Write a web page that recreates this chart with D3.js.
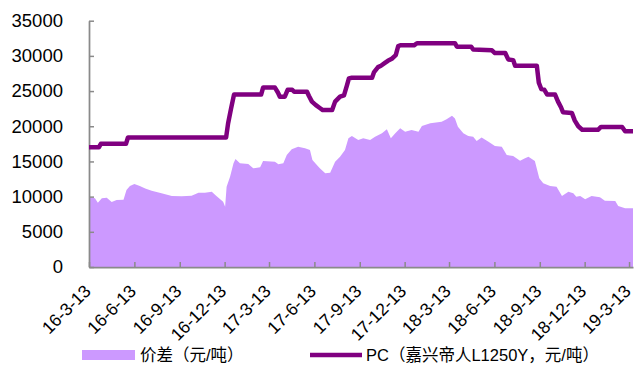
<!DOCTYPE html>
<html>
<head>
<meta charset="utf-8">
<script src="https://cdn.jsdelivr.net/npm/d3@7"></script>
<style>
  html, body { margin: 0; padding: 0; background: #fff; }
  svg { display: block; }
  text { font-family: "Liberation Sans", Arial, "Noto Sans CJK SC", sans-serif; }
</style>
</head>
<body>
<svg id="chart" width="634" height="374"></svg>
<script>
// Price spread (yuan/tonne)
const spreadDates = [
  "2016-03-13","2016-03-25","2016-03-31","2016-04-08","2016-04-18","2016-04-28","2016-05-08","2016-05-22",
  "2016-05-28","2016-06-04","2016-06-13","2016-06-24","2016-07-05","2016-07-18","2016-08-07","2016-08-28",
  "2016-09-17","2016-10-07","2016-10-21","2016-11-03","2016-11-17","2016-11-24","2016-12-04","2016-12-10",
  "2016-12-14","2016-12-17","2016-12-24","2016-12-31","2017-01-04","2017-01-13","2017-01-30","2017-02-09",
  "2017-02-23","2017-03-01","2017-03-25","2017-04-01","2017-04-11","2017-04-18","2017-04-28","2017-05-11",
  "2017-05-25","2017-06-04","2017-06-09","2017-06-18","2017-06-24","2017-07-05","2017-07-15","2017-07-25",
  "2017-08-04","2017-08-14","2017-08-21","2017-08-28","2017-09-10","2017-09-20","2017-10-04","2017-10-14",
  "2017-10-28","2017-11-07","2017-11-15","2017-11-24","2017-12-04","2017-12-14","2017-12-27","2018-01-10",
  "2018-01-17","2018-02-03","2018-02-26","2018-03-08","2018-03-19","2018-03-25","2018-03-31","2018-04-11",
  "2018-04-21","2018-05-01","2018-05-08","2018-05-18","2018-06-01","2018-06-14","2018-06-28","2018-07-08",
  "2018-07-21","2018-08-04","2018-08-14","2018-08-21","2018-09-03","2018-09-12","2018-09-20","2018-10-04",
  "2018-10-17","2018-10-28","2018-11-10","2018-11-20","2018-11-26","2018-12-04","2018-12-14","2018-12-27",
  "2019-01-13","2019-01-23","2019-02-13","2019-02-19","2019-03-05","2019-03-21"
];
const spreadValues = [
  9900, 9760, 9130, 9760, 9840, 9230, 9520, 9560,
  10940, 11500, 11790, 11500, 11170, 10840, 10470, 10090,
  10040, 10130, 10560, 10560, 10700, 10230, 9620, 9280,
  8570, 11400, 12830, 14730, 15340, 14730, 14630, 14020,
  14160, 15060, 14960, 14590, 14730, 15910, 16720, 17090,
  16860, 16620, 15200, 14490, 14020, 13310, 13400, 14960,
  15670, 16620, 18280, 18610, 18040, 18280, 18040, 18510,
  18990, 19560, 18280, 18990, 19700, 19220, 19460, 19220,
  20030, 20410, 20640, 20980, 21500, 21120, 19930, 18990,
  18610, 18510, 17900, 18420, 17800, 17190, 17090, 15910,
  15770, 15100, 15440, 15670, 15060, 12600, 11890, 11500,
  11400, 10090, 10700, 10470, 9990, 10090, 9620, 10090,
  9900, 9420, 9380, 8670, 8340, 8340
];

// PC price, Jiaxing Teijin L1250Y (yuan/tonne)
const pcDates = [
  "2016-03-13","2016-04-02","2016-04-06","2016-05-27","2016-05-31","2016-12-16","2016-12-20","2016-12-26",
  "2017-01-01","2017-02-25","2017-03-01","2017-03-25","2017-03-31","2017-04-04","2017-04-14","2017-04-20",
  "2017-04-29","2017-05-03","2017-05-29","2017-06-02","2017-06-08","2017-06-16","2017-06-24","2017-06-30",
  "2017-07-19","2017-07-25","2017-08-04","2017-08-12","2017-08-18","2017-08-22","2017-08-28","2017-10-08",
  "2017-10-12","2017-10-20","2017-10-26","2017-11-03","2017-11-09","2017-11-17","2017-11-25","2017-11-30",
  "2017-12-04","2018-01-01","2018-01-07","2018-03-25","2018-03-29","2018-04-27","2018-05-01","2018-06-08",
  "2018-06-14","2018-07-05","2018-07-11","2018-07-21","2018-07-25","2018-09-07","2018-09-11","2018-09-16",
  "2018-09-22","2018-09-28","2018-10-14","2018-10-20","2018-10-26","2018-10-30","2018-11-17","2018-11-23",
  "2018-11-30","2018-12-08","2019-01-09","2019-01-15","2019-02-27","2019-03-05","2019-03-21"
];
const pcValues = [
  17000, 17000, 17500, 17500, 18400, 18400, 20400, 22500,
  24500, 24500, 25500, 25500, 24800, 24200, 24200, 25200,
  25200, 24900, 24900, 24300, 23500, 23000, 22600, 22300,
  22300, 23500, 24200, 24400, 25800, 26800, 26900, 26900,
  27700, 28400, 28600, 29000, 29300, 29600, 30100, 31400,
  31500, 31500, 31800, 31800, 31300, 31300, 30900, 30800,
  30400, 30400, 29500, 29400, 28600, 28600, 26200, 25300,
  25200, 24500, 24500, 23500, 22700, 22000, 21900, 20800,
  20000, 19500, 19500, 19900, 19900, 19300, 19300
];

const xTickLabels = ["16-3-13","16-6-13","16-9-13","16-12-13","17-3-13","17-6-13","17-9-13",
                     "17-12-13","18-3-13","18-6-13","18-9-13","18-12-13","19-3-13"];
const yTickValues = [0, 5000, 10000, 15000, 20000, 25000, 30000, 35000];
const seriesNames = ["价差（元/吨）", "PC（嘉兴帝人L1250Y，元/吨）"];

const parseDate = d3.timeParse("%Y-%m-%d");
const parseTick = d3.timeParse("%y-%m-%d");

const spread = spreadDates.map((d, i) => ({ date: parseDate(d), value: spreadValues[i] }));
const pc = pcDates.map((d, i) => ({ date: parseDate(d), value: pcValues[i] }));
const tickDates = xTickLabels.map(parseTick);

const svg = d3.select("#chart");
const plotLeft = 89, plotRight = 633, plotTop = 20.7, plotBottom = 267;
const axisColor = "#8a8a8a";

const allDates = spread.map(d => d.date).concat(pc.map(d => d.date));
const x = d3.scaleTime().domain(d3.extent(allDates)).range([plotLeft, plotRight]);
const y = d3.scaleLinear().domain([0, 35000]).range([plotBottom, plotTop]);

// spread area
svg.append("path")
  .datum(spread)
  .attr("fill", "#CC99FF")
  .attr("d", d3.area().x(d => x(d.date)).y0(y(0)).y1(d => y(d.value)));

// y axis
const yAxis = svg.append("g")
  .attr("transform", `translate(${plotLeft},0)`)
  .call(d3.axisLeft(y).tickValues(yTickValues).tickSizeInner(-5).tickSizeOuter(0)
    .tickPadding(26).tickFormat(d3.format("d")));

// x axis
const xAxis = svg.append("g")
  .attr("transform", `translate(0,${plotBottom})`)
  .call(d3.axisBottom(x).tickValues(tickDates).tickSizeInner(-5).tickSizeOuter(0)
    .tickFormat((d, i) => xTickLabels[i]));

[yAxis, xAxis].forEach(g => {
  g.select(".domain").attr("stroke", axisColor).attr("stroke-width", 1.75);
  g.selectAll(".tick line").attr("stroke", axisColor).attr("stroke-width", 1.5);
});
yAxis.selectAll("text").attr("fill", "#000").style("font-size", "18.5px");
xAxis.selectAll("text")
  .attr("fill", "#000")
  .style("font-size", "17.5px")
  .attr("x", 0).attr("y", 0).attr("dy", "0.35em")
  .attr("text-anchor", "end")
  .attr("transform", "translate(-2,21) rotate(-45)");

// PC price line
svg.append("path")
  .datum(pc)
  .attr("fill", "none")
  .attr("stroke", "#800080")
  .attr("stroke-width", 4.5)
  .attr("stroke-linejoin", "round")
  .attr("d", d3.line().x(d => x(d.date)).y(d => y(d.value)));

// legend
const legend = svg.append("g").style("font-size", "16.5px");
legend.append("rect").attr("x", 82).attr("y", 350).attr("width", 53).attr("height", 10).attr("fill", "#CC99FF");
legend.append("text").attr("x", 140).attr("y", 355).attr("dy", "0.35em").attr("fill", "#000").text(seriesNames[0]);
legend.append("line").attr("x1", 310).attr("x2", 362).attr("y1", 355).attr("y2", 355)
  .attr("stroke", "#800080").attr("stroke-width", 4.5);
legend.append("text").attr("x", 366).attr("y", 355).attr("dy", "0.35em").attr("fill", "#000").text(seriesNames[1]);
</script>
</body>
</html>
